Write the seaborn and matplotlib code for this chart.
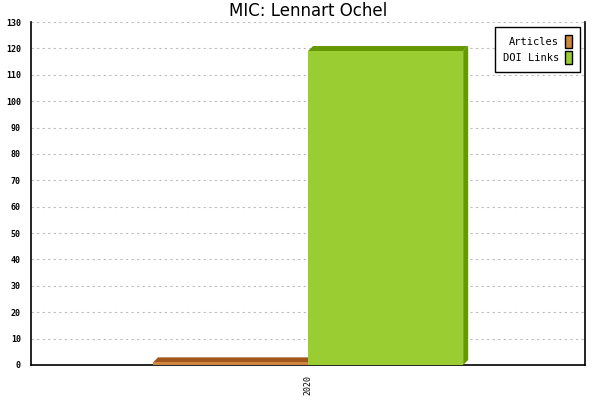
import matplotlib
matplotlib.use("Agg")
import matplotlib.pyplot as plt
from matplotlib.patches import Polygon, Patch
import seaborn as sns
import pandas as pd

# data
years = ["2020"]
series = ["Articles", "DOI Links"]
articles = [1]
doi_links = [119]
front_colors = ["#CD853F", "#9ACD32"]
shade_colors = ["#A0561C", "#669900"]

df = pd.DataFrame({
    "year": years * 2,
    "series": [series[0]] * len(years) + [series[1]] * len(years),
    "value": articles + doi_links,
})

sns.set_style("white")
plt.rcParams["font.family"] = ["DejaVu Sans"]
plt.rcParams["text.color"] = "black"
plt.rcParams["axes.labelcolor"] = "black"
plt.rcParams["xtick.color"] = "black"
plt.rcParams["ytick.color"] = "black"

fig = plt.figure(figsize=(6, 4), dpi=100)
ax = fig.add_axes([0.052, 0.0875, 0.923, 0.8575])

sns.barplot(data=df, x="year", y="value", hue="series", palette=front_colors,
            width=0.56, gap=0, linewidth=0, saturation=1, ax=ax, legend=False, zorder=3)

ax.set_xlim(-0.5, 0.5)
ax.set_ylim(0, 130)
ax.set_yticks(range(0, 131, 10))

# fake 3D depth: side and top faces in darker shade
dx = 5 / 554
dy = 5 / (343 / 130)
for i, bar in enumerate(ax.patches):
    x0 = bar.get_x()
    x1 = x0 + bar.get_width()
    h = bar.get_height()
    z = 2 + i * 2
    bar.set_zorder(z + 1)
    shade = shade_colors[i]
    side = Polygon([(x1, 0), (x1 + dx, dy), (x1 + dx, h + dy), (x1, h)],
                   closed=True, facecolor=shade, edgecolor="none", zorder=z)
    top = Polygon([(x0, h), (x0 + dx, h + dy), (x1 + dx, h + dy), (x1, h)],
                  closed=True, facecolor=shade, edgecolor="none", zorder=z)
    ax.add_patch(side)
    ax.add_patch(top)

ax.yaxis.grid(True, linestyle=(0, (2, 3)), color="#bbbbbb", linewidth=0.8, zorder=0)
ax.xaxis.grid(False)

ax.spines["top"].set_visible(False)
for s in ["left", "bottom", "right"]:
    ax.spines[s].set_color("black")
    ax.spines[s].set_linewidth(1.2)

ax.set_xticks([-0.5, 0, 0.5])
ax.set_xticklabels(["", years[0], ""], rotation=90, family="DejaVu Sans Mono", fontsize=6)
ax.tick_params(axis="x", direction="out", length=4, width=1)
ax.tick_params(axis="y", direction="inout", length=8, width=1.2, labelsize=6)
for lab in ax.get_yticklabels():
    lab.set_family("DejaVu Sans Mono")
    lab.set_fontweight("bold")
ax.set_xlabel("")
ax.set_ylabel("")

ax.set_title("MIC: Lennart Ochel", fontsize=12, pad=4, color="black")

handles = [Patch(facecolor=c, edgecolor="black", linewidth=1) for c in front_colors]
leg = ax.legend(handles, series, loc="upper right", markerfirst=False, fancybox=False,
                framealpha=1, edgecolor="black", prop={"family": "DejaVu Sans Mono", "size": 7.5},
                handlelength=0.6, handleheight=1.5, handletextpad=0.6, borderpad=0.8,
                labelspacing=0.3, borderaxespad=0, bbox_to_anchor=(0.991, 0.985))
leg.get_frame().set_linewidth(1)
leg.set_zorder(10)
for t in leg.get_texts():
    t.set_color("black")

fig.savefig("out.png", dpi=100)
